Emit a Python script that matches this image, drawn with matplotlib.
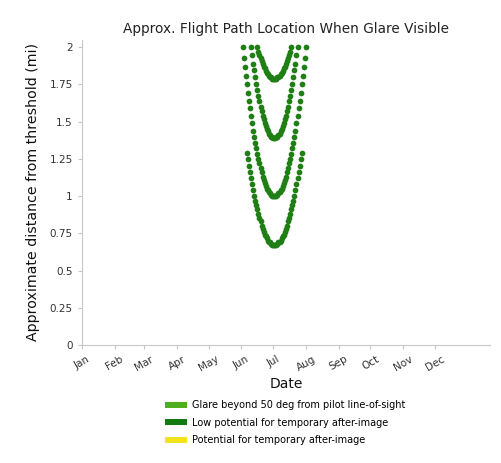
import matplotlib
matplotlib.use("Agg")
from matplotlib import pyplot as plt
from matplotlib.patches import Patch
from matplotlib.ticker import FormatStrFormatter

# day of year at the start of each month
month_days = [1, 32, 60, 91, 121, 152, 182, 213, 244, 274, 305, 335]
month_names = ["Jan", "Feb", "Mar", "Apr", "May", "Jun",
               "Jul", "Aug", "Sep", "Oct", "Nov", "Dec"]
y_ticks = [0, 0.25, 0.5, 0.75, 1, 1.25, 1.5, 1.75, 2]

# distance (mi) on the flight path where glare is seen, one point per day
days_1 = list(range(157, 210))
dist_1 = [1.29, 1.25, 1.20, 1.16, 1.12, 1.08, 1.04, 1.00, 0.97, 0.94, 0.91,
          0.88, 0.85, 0.83, 0.80, 0.78, 0.76, 0.74, 0.73, 0.72, 0.70, 0.69,
          0.69, 0.68, 0.67, 0.67, 0.67, 0.67, 0.67, 0.68, 0.69, 0.69, 0.70,
          0.72, 0.73, 0.74, 0.76, 0.78, 0.80, 0.83, 0.85, 0.88, 0.91, 0.94,
          0.97, 1.00, 1.04, 1.08, 1.12, 1.16, 1.20, 1.25, 1.29]

days_2 = list(range(153, 214))
dist_2 = [2.00, 1.93, 1.87, 1.81, 1.75, 1.69, 1.64, 1.59, 1.54, 1.49, 1.44,
          1.40, 1.36, 1.32, 1.28, 1.25, 1.22, 1.19, 1.16, 1.13, 1.11, 1.09,
          1.07, 1.05, 1.04, 1.03, 1.02, 1.01, 1.00, 1.00, 1.00, 1.00, 1.00,
          1.01, 1.02, 1.03, 1.04, 1.05, 1.07, 1.09, 1.11, 1.13, 1.16, 1.19,
          1.22, 1.25, 1.28, 1.32, 1.36, 1.40, 1.44, 1.49, 1.54, 1.59, 1.64,
          1.69, 1.75, 1.81, 1.87, 1.93, 2.00]

days_3 = list(range(161, 206))
dist_3 = [2.00, 1.95, 1.89, 1.85, 1.80, 1.75, 1.71, 1.67, 1.64, 1.60, 1.57,
          1.54, 1.52, 1.49, 1.47, 1.45, 1.44, 1.42, 1.41, 1.40, 1.40, 1.39,
          1.39, 1.39, 1.40, 1.40, 1.41, 1.42, 1.44, 1.45, 1.47, 1.49, 1.52,
          1.54, 1.57, 1.60, 1.64, 1.67, 1.71, 1.75, 1.80, 1.85, 1.89, 1.95,
          2.00]

days_4 = list(range(167, 200))
dist_4 = [2.00, 1.97, 1.95, 1.93, 1.91, 1.89, 1.87, 1.86, 1.84, 1.83, 1.82,
          1.81, 1.80, 1.80, 1.79, 1.79, 1.79, 1.79, 1.79, 1.80, 1.80, 1.81,
          1.82, 1.83, 1.84, 1.86, 1.87, 1.89, 1.91, 1.93, 1.95, 1.97, 2.00]

legend_labels = ["Glare beyond 50 deg from pilot line-of-sight",
                 "Low potential for temporary after-image",
                 "Potential for temporary after-image"]
legend_colors = ["#4fae1e", "#127a10", "#f2e41c"]

dot_color = "#1f7f14"
grey = "#c8c8c8"

fig = plt.figure(figsize=(5.02, 4.63), dpi=100)
ax = fig.add_axes([0.163, 0.255, 0.813, 0.659])

for d, y in [(days_1, dist_1), (days_2, dist_2), (days_3, dist_3), (days_4, dist_4)]:
    ax.scatter(d, y, s=17, color=dot_color, linewidths=0, zorder=3)

ax.set_xlim(1, 387)
ax.set_ylim(0, 2.05)
ax.set_xticks(month_days)
ax.set_xticklabels(month_names, rotation=30, ha="center", fontsize=7.5, color="#333333")
ax.set_yticks(y_ticks)
ax.yaxis.set_major_formatter(FormatStrFormatter("%g"))
ax.tick_params(axis="y", labelsize=7.5)
ax.tick_params(colors=grey, length=3, width=0.8)
ax.tick_params(labelcolor="#333333")

for side in ["top", "right"]:
    ax.spines[side].set_visible(False)
for side in ["left", "bottom"]:
    ax.spines[side].set_color(grey)
    ax.spines[side].set_linewidth(0.8)

ax.set_title("Approx. Flight Path Location When Glare Visible", fontsize=9.8, color="#222222", pad=5)
ax.set_xlabel("Date", fontsize=10, color="#111111", labelpad=3)
ax.set_ylabel("Approximate distance from threshold (mi)", fontsize=10.2, color="#111111", labelpad=7)

handles = [Patch(facecolor=c, edgecolor="none") for c in legend_colors]
fig.legend(handles, legend_labels, loc="upper left", bbox_to_anchor=(0.329, 0.135),
           frameon=False, fontsize=7, handlelength=2.2, handleheight=0.55,
           labelspacing=0.75, handletextpad=0.55, borderaxespad=0, borderpad=0)

plt.savefig("out.png", dpi=100)
